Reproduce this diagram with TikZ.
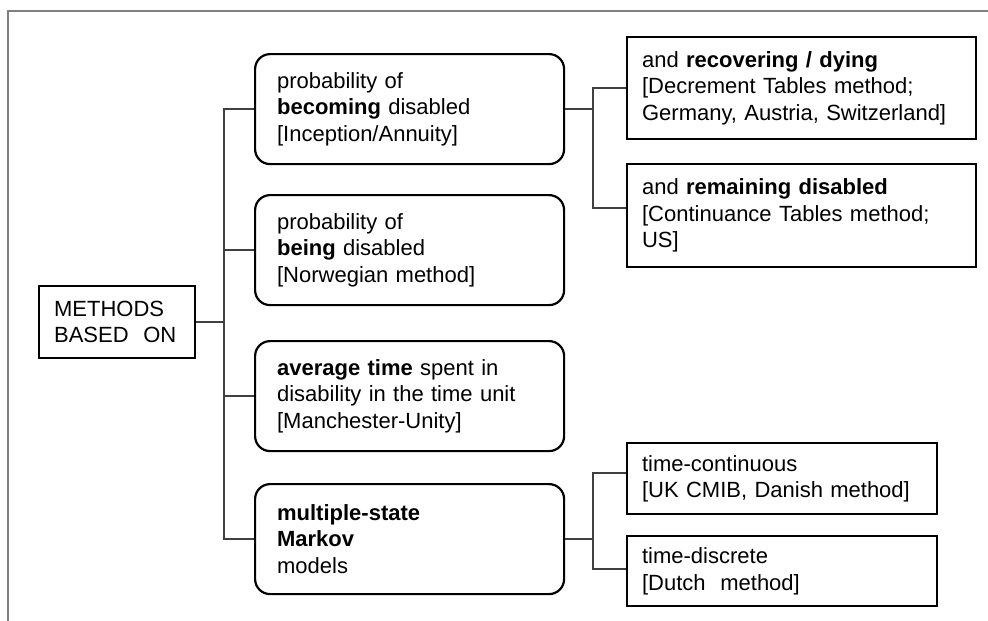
\documentclass[tikz,border=0pt]{standalone}
\usepackage{fontspec}
\setmainfont{Liberation Sans}
\begin{document}
\begin{tikzpicture}[x=1pt,y=-1pt,
  base/.style={draw=black, line width=2.2pt, anchor=north west, align=left,
    font=\fontsize{22}{26.5}\selectfont, inner ysep=0pt},
  rbox/.style={base, rounded corners=15pt, inner xsep=22pt, text width=265pt, minimum height=110pt},
  wbox/.style={base, inner xsep=15pt, text width=319pt, minimum height=102pt},
  sbox/.style={base, inner xsep=15pt, text width=280pt, minimum height=71pt},
  conn/.style={draw=black!75, line width=1.3pt},
  frame/.style={draw=black!50, line width=2pt}]
\useasboundingbox (0,0) rectangle (988,621);
\draw[frame] (988,11) -- (8,11) -- (8,621);

\node[base, inner xsep=15pt, text width=126pt, minimum height=72pt] (m) at (38,285) {METHODS\\BASED\ \ ON};

\node[rbox] (b1) at (254,53) {probability of\\\textbf{becoming} disabled\\{[Inception/Annuity]}};
\node[rbox] (b2) at (254,194) {probability of\\\textbf{being} disabled\\{[Norwegian method]}};
\node[rbox] (b3) at (254,340) {\textbf{average time} spent in\\disability in the time unit\\{[Manchester-Unity]}};
\node[rbox] (b4) at (254,483) {\textbf{multiple-state}\\\textbf{Markov}\\models};

\node[wbox] (r1) at (626,36) {and \textbf{recovering / dying}\\{[Decrement Tables method;}\\Germany, Austria, Switzerland]};
\node[wbox, minimum height=103pt] (r2) at (626,163) {and \textbf{remaining disabled}\\{[Continuance Tables method;}\\US]};
\node[sbox] (r3) at (626,442) {time-continuous\\{[UK CMIB, Danish method]}};
\node[sbox, minimum height=70pt] (r4) at (626,535) {time-discrete\\{[Dutch\ \ method]}};

\coordinate (t) at (224,0);
\coordinate (f1) at (593,0);
\coordinate (r2c) at ([yshift=7.5pt]r2.west);
\coordinate (r3c) at ([yshift=5.5pt]r3.west);
\coordinate (r4c) at ([yshift=2pt]r4.west);

\draw[conn] (m.east) -- (m.east -| t);
\draw[conn] (b1.west) -- (b1.west -| t) -- (b4.west -| t) -- (b4.west);
\draw[conn] (b2.west) -- (b2.west -| t);
\draw[conn] (b3.west) -- (b3.west -| t);

\draw[conn] (b1.east) -- (b1.east -| f1);
\draw[conn] (r1.west) -- (r1.west -| f1) -- (r2c -| f1) -- (r2c);
\draw[conn] (b4.east) -- (b4.east -| f1);
\draw[conn] (r3c) -- (r3c -| f1) -- (r4c -| f1) -- (r4c);
\end{tikzpicture}
\end{document}
